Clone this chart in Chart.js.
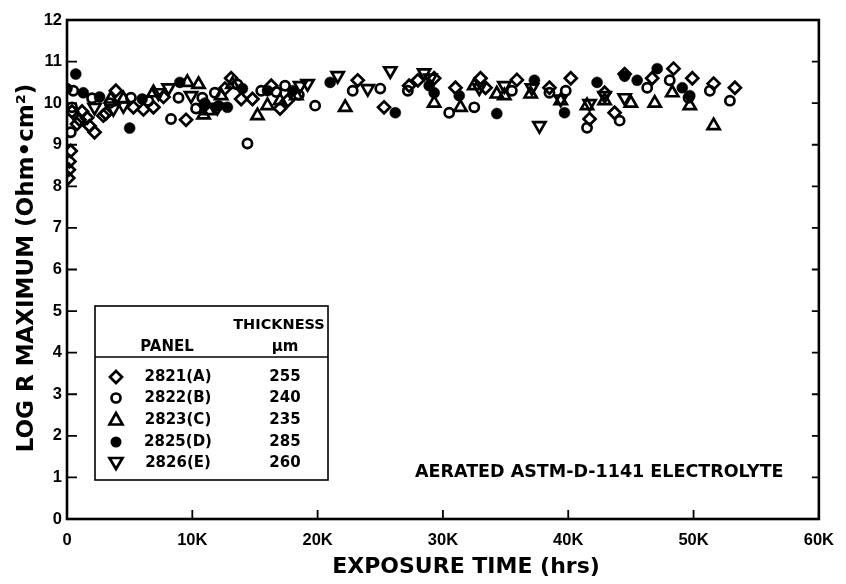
<!DOCTYPE html>
<html>
<head>
<meta charset="utf-8">
<script src="https://cdn.jsdelivr.net/npm/chart.js@4.4.1/dist/chart.umd.min.js"></script>
<style>
  html, body { margin: 0; padding: 0; background: #fff; }
  #wrap { width: 846px; height: 584px; }
</style>
</head>
<body>
<div id="wrap"><canvas id="c" width="846" height="584"></canvas></div>
<script>
// ---- data (hours, log R max) ----
const xTicks = [0, 10000, 20000, 30000, 40000, 50000, 60000];
const yTicks = [0,1,2,3,4,5,6,7,8,9,10,11,12];

const panelNames = ["2821(A)", "2822(B)", "2823(C)", "2825(D)", "2826(E)"];
const thicknessUm = ["255", "240", "235", "285", "260"];

const timeA = [100,150,200,300,400,800,1000,1200,1600,1800,2200,2900,3100,3900,5300,6100,6900,7700,9500,11000,12600,13100,13900,14800,16300,17000,17600,23200,25300,27300,28000,29300,31000,33000,33400,35900,38500,40200,41700,42900,43700,44500,46700,48400,49900,51600,53300];
const logRA = [8.2,8.4,8.6,8.85,9.8,9.5,9.6,9.8,9.65,9.45,9.3,9.7,9.75,10.3,9.9,9.85,9.9,10.15,9.6,9.95,10.35,10.6,10.1,10.1,10.42,9.87,10.06,10.55,9.9,10.42,10.55,10.6,10.37,10.6,10.37,10.56,10.37,10.6,9.62,10.25,9.77,10.7,10.6,10.83,10.6,10.47,10.37];

const timeB = [300,400,500,2000,3400,5100,6500,8300,8900,10300,10800,11800,13600,14400,15500,16700,17400,18500,19800,22800,25000,27200,30500,32500,35500,38500,39800,41500,44100,46300,48100,49600,51300,52900];
const logRB = [9.3,9.9,10.3,10.12,10.0,10.13,10.05,9.62,10.13,9.87,10.13,10.25,10.45,9.03,10.3,10.27,10.42,10.2,9.94,10.3,10.35,10.3,9.77,9.9,10.3,10.25,10.3,9.41,9.58,10.37,10.55,10.13,10.3,10.06];

const timeC = [3500,4500,6900,9600,10500,10900,11300,12300,13200,15200,16000,17000,18300,22200,29300,31400,32500,34300,34900,37000,39400,41500,42900,45000,46900,48300,49700,51600];
const logRC = [10.1,10.1,10.25,10.5,10.45,9.72,9.82,10.18,10.45,9.7,9.94,10.06,10.18,9.9,10.0,9.9,10.42,10.22,10.18,10.22,10.06,9.94,10.06,10.0,10.0,10.25,9.94,9.46];

const timeD = [0,700,1300,2600,5000,6000,9000,11000,12100,12800,14000,16000,18000,21000,26200,28900,29300,31300,34300,37300,39700,42300,44500,45500,47100,49100,49700];
const logRD = [10.35,10.7,10.25,10.15,9.4,10.1,10.5,10.0,9.94,9.9,10.35,10.3,10.3,10.5,9.77,10.42,10.25,10.18,9.75,10.55,9.77,10.5,10.65,10.55,10.83,10.37,10.18];

const timeE = [2200,3700,4500,7300,8100,9900,12000,18600,19200,21600,24000,25800,28500,29000,32900,34900,37100,37700,39400,41700,42900,44500];
const logRE = [9.9,9.87,9.94,10.25,10.37,10.18,9.9,10.42,10.47,10.66,10.35,10.78,10.73,10.6,10.37,10.42,10.37,9.46,10.1,9.99,10.18,10.13];

function pts(xs, ys) { return xs.map((x, i) => ({ x: x, y: ys[i] })); }

const TICKFONT = "'Liberation Sans', Arial, Helvetica, sans-serif";
const FONT = "'DejaVu Sans', 'Liberation Sans', Arial, sans-serif";
const LW = 2.7;

// ---- frame, inward ticks, titles, legend table, note ----
const decor = {
  id: 'decor',
  afterDraw(chart) {
    const ctx = chart.ctx;
    const a = chart.chartArea;
    const xs = chart.scales.x, ys = chart.scales.y;
    ctx.save();
    ctx.strokeStyle = '#000';
    ctx.fillStyle = '#000';
    ctx.lineWidth = 2.6;
    ctx.strokeRect(a.left, a.top, a.right - a.left, a.bottom - a.top);
    ctx.lineWidth = 1.8;
    ctx.beginPath();
    yTicks.forEach(v => {
      const py = ys.getPixelForValue(v);
      ctx.moveTo(a.left, py); ctx.lineTo(a.left + 10, py);
      ctx.moveTo(a.right, py); ctx.lineTo(a.right - 7, py);
    });
    xTicks.forEach(v => {
      const px = xs.getPixelForValue(v);
      ctx.moveTo(px, a.bottom); ctx.lineTo(px, a.bottom - 9);
    });
    ctx.stroke();

    // axis titles
    ctx.textAlign = 'center';
    ctx.textBaseline = 'middle';
    ctx.font = 'bold 22px ' + FONT;
    ctx.fillText('EXPOSURE TIME (hrs)', 466, 567);
    ctx.save();
    ctx.translate(27, 268);
    ctx.rotate(-Math.PI / 2);
    ctx.font = 'bold 23px ' + FONT;
    ctx.fillText('LOG R MAXIMUM (Ohm\u2022cm\u00B2)', 0, 0);
    ctx.restore();

    // legend table
    const L = 95, T = 306, R = 328, B = 480;
    ctx.lineWidth = 1.6;
    ctx.strokeRect(L, T, R - L, B - T);
    ctx.beginPath(); ctx.moveTo(L, 357); ctx.lineTo(R, 357); ctx.stroke();
    ctx.font = 'bold 14.5px ' + FONT;
    ctx.fillText('THICKNESS', 279, 325);
    ctx.font = 'bold 15px ' + FONT;
    ctx.fillText('PANEL', 167, 347);
    ctx.fillText('\u00B5m', 285, 347);
    const rowY = [377, 398, 420, 442, 463];
    rowY.forEach((yy, i) => {
      ctx.fillText(panelNames[i], 178, yy);
      ctx.fillText(thicknessUm[i], 285, yy);
    });
    // legend symbols
    ctx.lineWidth = LW;
    const sx = 116;
    let y0 = rowY[0];
    ctx.beginPath(); ctx.moveTo(sx, y0 - 6); ctx.lineTo(sx + 6, y0); ctx.lineTo(sx, y0 + 6); ctx.lineTo(sx - 6, y0); ctx.closePath(); ctx.stroke();
    y0 = rowY[1];
    ctx.beginPath(); ctx.arc(sx, y0, 4.5, 0, Math.PI * 2); ctx.stroke();
    y0 = rowY[2];
    ctx.beginPath(); ctx.moveTo(sx, y0 - 7); ctx.lineTo(sx + 6.5, y0 + 4.5); ctx.lineTo(sx - 6.5, y0 + 4.5); ctx.closePath(); ctx.stroke();
    y0 = rowY[3];
    ctx.beginPath(); ctx.arc(sx, y0, 5.5, 0, Math.PI * 2); ctx.fill();
    y0 = rowY[4];
    ctx.beginPath(); ctx.moveTo(sx, y0 + 6); ctx.lineTo(sx + 6.5, y0 - 5); ctx.lineTo(sx - 6.5, y0 - 5); ctx.closePath(); ctx.stroke();

    // note
    ctx.font = 'bold 17.5px ' + FONT;
    ctx.textAlign = 'left';
    ctx.fillText('AERATED ASTM-D-1141 ELECTROLYTE', 415, 472);
    ctx.restore();
  }
};

const common = { borderColor: '#000', borderWidth: LW, showLine: false, pointHoverRadius: 6 };

new Chart(document.getElementById('c'), {
  type: 'scatter',
  data: {
    datasets: [
      Object.assign({ label: panelNames[0], data: pts(timeA, logRA), pointStyle: 'rectRot', pointRadius: 6, backgroundColor: 'rgba(255,255,255,0)' }, common),
      Object.assign({ label: panelNames[1], data: pts(timeB, logRB), pointStyle: 'circle', pointRadius: 4.6, backgroundColor: 'rgba(255,255,255,0)' }, common),
      Object.assign({ label: panelNames[2], data: pts(timeC, logRC), pointStyle: 'triangle', pointRadius: 7, backgroundColor: 'rgba(255,255,255,0)' }, common),
      Object.assign({}, common, { label: panelNames[3], data: pts(timeD, logRD), pointStyle: 'circle', pointRadius: 5.5, backgroundColor: '#000', borderWidth: 0.5 }),
      Object.assign({ label: panelNames[4], data: pts(timeE, logRE), pointStyle: 'triangle', rotation: 180, pointRadius: 7, backgroundColor: 'rgba(255,255,255,0)' }, common)
    ]
  },
  options: {
    responsive: false,
    animation: false,
    layout: { padding: { top: 20, right: 26, left: 0, bottom: 0 } },
    plugins: { legend: { display: false }, tooltip: { enabled: false } },
    scales: {
      x: {
        type: 'linear', min: 0, max: 60000,
        afterFit: s => { s.height = 65; },
        afterBuildTicks: s => { s.ticks = xTicks.map(v => ({ value: v })); },
        grid: { display: false, drawTicks: false },
        border: { display: false },
        ticks: {
          color: '#000', padding: 12, maxRotation: 0,
          font: { family: TICKFONT, size: 16.5, weight: 'bold' },
          callback: v => v === 0 ? '0' : (v / 1000) + 'K'
        },
        title: { display: false }
      },
      y: {
        type: 'linear', min: 0, max: 12,
        afterFit: s => { s.width = 67; },
        afterBuildTicks: s => { s.ticks = yTicks.map(v => ({ value: v })); },
        grid: { display: false, drawTicks: false },
        border: { display: false },
        ticks: { color: '#000', padding: 5, font: { family: TICKFONT, size: 16.5, weight: 'bold' } },
        title: { display: false }
      }
    }
  },
  plugins: [decor]
});
</script>
</body>
</html>
